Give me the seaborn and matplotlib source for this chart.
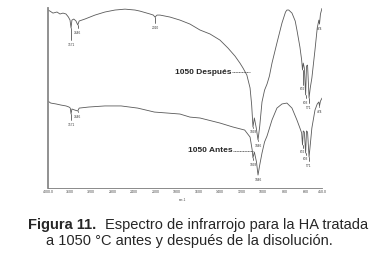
import numpy as np
import pandas as pd
import matplotlib
matplotlib.use('Agg')
import matplotlib.pyplot as plt
import seaborn as sns

# Espectro 1050 Después (numero de onda cm-1, %T)
desp_wn = [4000, 3963, 3907, 3833, 3777, 3721, 3665, 3620, 3590, 3571, 3555, 3520, 3479, 3446, 3420,
           3312, 3126, 2940, 2753, 2567, 2381, 2288, 2102, 2040, 2010, 1985, 1958, 1865, 1772, 1679,
           1586, 1493, 1400, 1326, 1260, 1214, 1186, 1150, 1120, 1105, 1093, 1080, 1062, 1046, 1030,
           1009, 985, 962, 940, 916, 870, 823, 790, 777, 760, 730, 700, 684, 656, 640, 632, 625, 615,
           603, 595, 585, 571, 560, 545, 516, 495, 480, 474, 465, 450]
desp_t = [98.9, 98.3, 97.2, 97.8, 96.7, 97.2, 96.7, 95.0, 93.3, 88.9, 93.3, 93.9, 92.8, 90.6, 92.8,
          93.9, 96.1, 97.8, 98.9, 99.4, 98.9, 98.3, 96.7, 96.1, 95.0, 96.1, 96.1, 95.0, 93.3, 91.1,
          87.8, 85.6, 82.2, 77.8, 73.3, 69.4, 66.7, 62.8, 55.6, 46.1, 33.9, 38.9, 33.3, 26.7, 34.4,
          47.8, 54.4, 57.8, 62.2, 69.4, 80.6, 91.7, 97.8, 98.9, 98.9, 97.2, 92.8, 87.8, 78.3, 71.1,
          65.6, 69.4, 66.7, 51.7, 67.8, 68.3, 50.0, 55.6, 61.1, 76.7, 88.9, 93.3, 91.1, 96.7, 100.0]

# Espectro 1050 Antes
antes_wn = [4000, 3950, 3850, 3760, 3665, 3610, 3585, 3571, 3555, 3500, 3446, 3420, 3240, 2940, 2640,
            2330, 2020, 1900, 1772, 1679, 1586, 1400, 1280, 1170, 1120, 1100, 1093, 1080, 1060, 1046,
            1030, 1009, 985, 962, 916, 870, 823, 777, 730, 684, 656, 640, 632, 625, 615, 603, 595,
            585, 571, 560, 545, 516, 495, 480, 474, 465, 450]
antes_t = [48.3, 47.2, 46.7, 46.1, 45.6, 45.0, 44.4, 41.1, 43.9, 43.3, 42.8, 44.4, 45.0, 45.6, 45.6,
           44.4, 42.2, 41.7, 41.1, 39.4, 38.9, 36.1, 33.9, 32.2, 28.3, 21.1, 16.7, 20.0, 14.4, 7.2,
           12.8, 19.4, 25.6, 28.9, 37.8, 44.4, 46.7, 47.2, 44.4, 37.8, 33.3, 30.6, 23.9, 31.7, 31.1,
           19.4, 31.7, 31.1, 17.2, 23.9, 33.3, 43.3, 46.7, 47.8, 45.6, 48.3, 50.0]

# picos marcados: numero de onda, %T en el pico, %T de la etiqueta
desp_peaks = [3571, 3446, 2010, 1093, 1046, 632, 603, 571, 474]
desp_peak_t = [88.9, 90.6, 95.0, 33.9, 26.7, 65.6, 51.7, 50.0, 91.1]
desp_lab_t = [80.6, 87.2, 90.0, 32.0, 24.5, 56.0, 48.5, 45.5, 89.5]
antes_peaks = [3571, 3446, 1093, 1046, 632, 603, 571, 474]
antes_peak_t = [41.1, 42.8, 16.7, 7.2, 23.9, 19.4, 17.2, 45.6]
antes_lab_t = [36.1, 40.6, 13.9, 5.5, 21.0, 17.0, 13.5, 43.5]

ticks = [4000, 3600, 3200, 2800, 2400, 2000, 1800, 1600, 1400, 1200, 1000, 800, 600, 450]
tick_labels = ['4000.0', '3600', '3200', '2800', '2400', '2000', '1800', '1600', '1400', '1200',
               '1000', '800', '600', '450.0']

sns.set_style('white')
plt.rcParams['font.family'] = ['Liberation Sans', 'DejaVu Sans']


# escala del espectrometro: cambia de 400 a 200 cm-1 por division en 2000
def fwd(x):
    x = np.asarray(x, dtype=float)
    return -np.where(x >= 2000, (4000 - x) / 400, 5 + (2000 - x) / 200)


def inv(u):
    u = -np.asarray(u, dtype=float)
    return np.where(u <= 5, 4000 - 400 * u, 2000 - 200 * (u - 5))


fig = plt.figure(figsize=(3.77, 2.65), dpi=100)
ax = fig.add_axes([0.1273, 0.2906, 0.727, 0.679])

line_col = '#5a5a5a'
df_d = pd.DataFrame({'wn': desp_wn, 't': desp_t})
df_a = pd.DataFrame({'wn': antes_wn, 't': antes_t})
sns.lineplot(data=df_d, x='wn', y='t', ax=ax, color=line_col, lw=0.6, sort=False)
sns.lineplot(data=df_a, x='wn', y='t', ax=ax, color=line_col, lw=0.6, sort=False)

ax.set_xscale('function', functions=(fwd, inv))
ax.set_xlim(4000, 450)
ax.set_ylim(0, 100)

# marcas de picos
for wn, pt, lt in zip(desp_peaks, desp_peak_t, desp_lab_t):
    ax.plot([wn, wn], [pt, lt + 1.5], color='#333333', lw=0.5)
    ax.text(wn, lt, str(wn), fontsize=2.3, ha='center', va='top', color='#333333')
for wn, pt, lt in zip(antes_peaks, antes_peak_t, antes_lab_t):
    ax.plot([wn, wn], [pt, lt + 1.5], color='#333333', lw=0.5)
    ax.text(wn, lt, str(wn), fontsize=2.3, ha='center', va='top', color='#333333')

# etiquetas de las curvas
ax.text(1290, 64.4, '1050 Después', fontsize=6, fontweight='bold', ha='right', va='center')
ax.plot([1290, 1125], [64.4, 64.4], color='#333333', lw=0.5, ls=(0, (1.5, 0.8)))
ax.text(1280, 20.6, '1050 Antes', fontsize=6, fontweight='bold', ha='right', va='center')
ax.plot([1280, 1093], [20.6, 20.6], color='#333333', lw=0.5, ls=(0, (1.5, 0.8)))

ax.set_xticks(ticks)
ax.set_xticklabels(tick_labels, fontsize=2.6, color='#444444')
ax.set_yticks([])
ax.tick_params(axis='x', direction='in', length=2, width=0.5, pad=1.5, color='#666666')
ax.set_xlabel('')
ax.set_ylabel('')
ax.text(0.49, -0.055, 'cm-1', transform=ax.transAxes, fontsize=2.3, color='#444444', ha='center', va='top')

sns.despine(ax=ax, top=True, right=True)
ax.spines['left'].set_color('#888888')
ax.spines['left'].set_linewidth(1.3)
ax.spines['bottom'].set_color('#777777')
ax.spines['bottom'].set_linewidth(0.6)

# pie de figura
fig.text(28 / 377, 1 - 225 / 265, 'Figura 11.', fontsize=10.5, fontweight='bold', ha='left', va='center')
fig.text(105 / 377, 1 - 225 / 265, 'Espectro de infrarrojo para la HA tratada', fontsize=10.5,
         ha='left', va='center')
fig.text(189 / 377, 1 - 241 / 265, 'a 1050 °C antes y después de la disolución.', fontsize=10.5,
         ha='center', va='center')

fig.savefig('out.png', dpi=100, facecolor='white')
